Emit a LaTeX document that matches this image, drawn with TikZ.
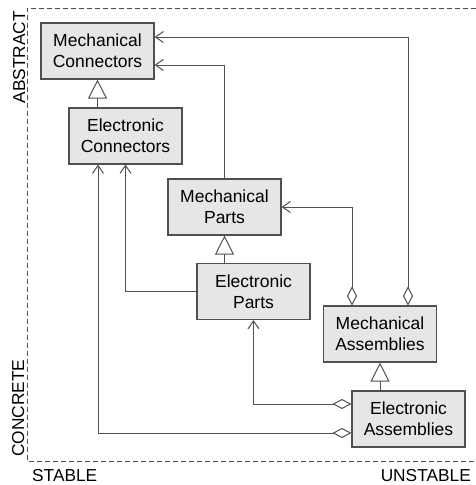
\documentclass[tikz,border=0pt]{standalone}
\usepackage{fontspec}
\setmainfont{Liberation Sans}
\usetikzlibrary{arrows.meta,calc}
\definecolor{linec}{HTML}{505050}
\definecolor{boxfill}{HTML}{E6E6E6}
\tikzset{
  cls/.style={draw=linec, fill=boxfill, line width=1.1pt, minimum width=113pt, minimum height=56pt,
    inner sep=0pt, align=center, font=\fontsize{17.5}{21}\selectfont},
  conn/.style={draw=linec, line width=1pt},
  inherit/.style={conn, -{Triangle[open, length=19pt, width=19pt, fill=white]}},
  uses/.style={conn, -{Straight Barb[length=8pt, width=11pt]}},
  aggr/.style={conn, {Diamond[open, length=19pt, width=10pt, fill=white]}-{Straight Barb[length=8pt, width=11pt]}},
  lbl/.style={font=\fontsize{17.3}{20}\selectfont, inner sep=0pt},
  frame/.style={draw=linec, line width=0.9pt, dash pattern=on 5pt off 3pt}
}
\begin{document}
\begin{tikzpicture}[x=1pt,y=-1pt]
\useasboundingbox (0,0) rectangle (476,485);
\fill[white] (0,0) rectangle (476,485);
% frame
\draw[frame] (476,8) -- (27,8) -- (27,461) -- (476,461);
\node[lbl, rotate=90, anchor=base east] (abs) at (25,11) {ABSTRACT};
\node[lbl, rotate=90, anchor=base west] (con) at (24,457) {CONCRETE};
\node[lbl, anchor=base west] (sta) at (32,481) {STABLE};
\node[lbl, anchor=base east] (uns) at (471,481) {UNSTABLE};
% classes
\node[cls] (MC) at (97.5,51) {Mechanical\\Connectors};
\node[cls] (EC) at (125.5,136) {Electronic\\Connectors};
\node[cls] (MP) at (224.5,207) {Mechanical\\Parts};
\node[cls] (EP) at (253.5,291.5) {Electronic\\Parts};
\node[cls] (MA) at (380,334) {Mechanical\\Assemblies};
\node[cls] (EA) at (408.5,419) {Electronic\\Assemblies};
% connectors
\draw[uses] (MP.north) |- ($(MC.east)+(0,14)$);
\draw[aggr] ($(MA.north)+(28,0)$) |- ($(MC.east)+(0,-14)$);
\draw[aggr] ($(MA.north)+(-28,0)$) |- (MP.east);
\draw[uses] (EP.west) -| (EC.south);
\draw[aggr] ($(EA.west)+(0,14)$) -| ($(EC.south)+(-27.5,0)$);
\draw[aggr] ($(EA.west)+(0,-15)$) -| (EP.south);
\draw[inherit] (MC.south |- EC.north) -- (MC.south);
\draw[inherit] (MP.south |- EP.north) -- (MP.south);
\draw[inherit] (MA.south |- EA.north) -- (MA.south);
\end{tikzpicture}
\end{document}
